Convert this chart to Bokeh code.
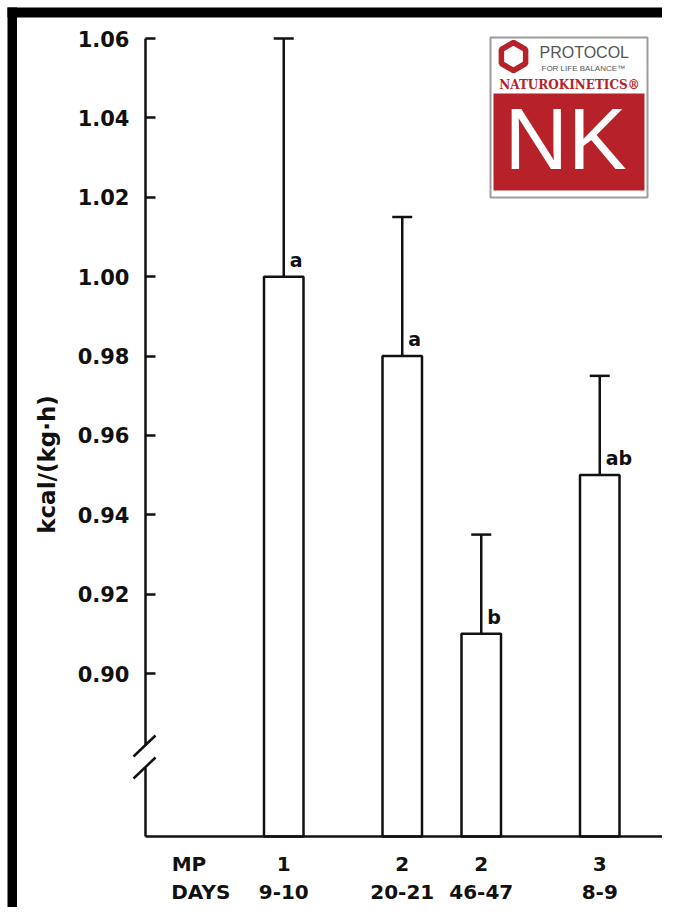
import numpy as np
from bokeh.plotting import figure
from bokeh.models import (Range1d, LinearAxis, FixedTicker, ColumnDataSource,
                          Whisker, TeeHead, Label, NumeralTickFormatter)
from bokeh.core.properties import value
from bokeh.embed import file_html
from bokeh.resources import INLINE

# ---------------- data ----------------
mp_labels = ["1", "2", "2", "3"]
days_labels = ["9-10", "20-21", "46-47", "8-9"]
means = [1.00, 0.98, 0.91, 0.95]
err_up = [0.060, 0.035, 0.025, 0.025]
sig_letters = ["a", "a", "b", "ab"]
y_ticks = [0.90, 0.92, 0.94, 0.96, 0.98, 1.00, 1.02, 1.04, 1.06]
row_titles = ["MP", "DAYS"]
y_title = "kcal/(kg·h)"
logo_top = "PROTOCOL"
logo_sub = "FOR LIFE BALANCE™"
logo_brand = "NATUROKINETICS®"
logo_big = "NK"

# ---------------- layout ----------------
bar_pos = [3.5, 6.5, 8.5, 11.5]
W, H = 662, 907
AX_PX, PX_PER_X = 145.0, 39.5
TOP_PY, TOP_Y, PX_PER_Y = 38.0, 1.06, 3968.75


def px2x(px):
    return (px - AX_PX) / PX_PER_X


def py2y(py):
    return TOP_Y - (py - TOP_PY) / PX_PER_Y


y_base = py2y(836)
INK = "#111111"
RED = "#b7222a"
FONT = "DejaVu Sans"

p = figure(width=W, height=H,
           x_range=Range1d(px2x(0), px2x(W)),
           y_range=Range1d(py2y(H), py2y(0)),
           x_axis_type=None, y_axis_type=None,
           toolbar_location=None, output_backend="svg",
           min_border=0, outline_line_color=None,
           background_fill_color="white", border_fill_color="white")
p.xgrid.visible = False
p.ygrid.visible = False

# outer black frame (left and top)
p.quad(left=px2x(7), right=px2x(16.5), bottom=py2y(940), top=py2y(7),
       fill_color="black", line_color=None)
p.quad(left=px2x(7), right=px2x(700), bottom=py2y(17), top=py2y(7),
       fill_color="black", line_color=None)

# y axis (upper part with ticks)
yax = LinearAxis(fixed_location=0, bounds=(py2y(745), TOP_Y),
                 ticker=FixedTicker(ticks=y_ticks, minor_ticks=[]),
                 formatter=NumeralTickFormatter(format="0.00"),
                 major_tick_in=10, major_tick_out=0,
                 minor_tick_in=0, minor_tick_out=0,
                 axis_line_width=2.5, axis_line_color=INK,
                 major_tick_line_width=2.5, major_tick_line_color=INK,
                 major_label_standoff=16,
                 major_label_text_font=FONT, major_label_text_font_style="bold",
                 major_label_text_font_size="21px", major_label_text_color=INK)
p.add_layout(yax, "left")

# y axis (lower part after break)
yax2 = LinearAxis(fixed_location=0, bounds=(y_base, py2y(767)),
                  ticker=FixedTicker(ticks=[], minor_ticks=[]),
                  major_tick_in=0, major_tick_out=0,
                  minor_tick_in=0, minor_tick_out=0,
                  axis_line_width=2.5, axis_line_color=INK,
                  major_label_text_font_size="0px")
p.add_layout(yax2, "left")

# axis break slashes
p.segment(x0=[px2x(133), px2x(133)], y0=[py2y(756), py2y(778)],
          x1=[px2x(155), px2x(155)], y1=[py2y(735), py2y(757)],
          line_color=INK, line_width=2.5)

# x axis rows
mp_ticks = [1.1] + bar_pos
mp_over = {t: s for t, s in zip(mp_ticks, [row_titles[0]] + mp_labels)}
xax = LinearAxis(fixed_location=y_base, bounds=(0, px2x(672)),
                 ticker=FixedTicker(ticks=mp_ticks, minor_ticks=[]),
                 major_label_overrides=mp_over,
                 major_tick_in=0, major_tick_out=0,
                 minor_tick_in=0, minor_tick_out=0,
                 axis_line_width=2.5, axis_line_color=INK,
                 major_label_standoff=15,
                 major_label_text_font=FONT, major_label_text_font_style="bold",
                 major_label_text_font_size="20px", major_label_text_color=INK)
p.add_layout(xax, "below")

days_ticks = [1.4] + bar_pos
days_over = {t: s for t, s in zip(days_ticks, [row_titles[1]] + days_labels)}
xax2 = LinearAxis(fixed_location=y_base,
                  ticker=FixedTicker(ticks=days_ticks, minor_ticks=[]),
                  major_label_overrides=days_over,
                  major_tick_in=0, major_tick_out=0,
                  minor_tick_in=0, minor_tick_out=0,
                  axis_line_color=None,
                  major_label_standoff=43,
                  major_label_text_font=FONT, major_label_text_font_style="bold",
                  major_label_text_font_size="20px", major_label_text_color=INK)
p.add_layout(xax2, "below")

# bars
src = ColumnDataSource(dict(
    x=bar_pos, top=means,
    upper=[m + e for m, e in zip(means, err_up)],
    lx=[x + 6 / PX_PER_X for x in bar_pos],
    ly=[m + 17 / PX_PER_Y for m in means],
    letter=sig_letters))
p.vbar(x="x", width=1.0, bottom=y_base, top="top", source=src,
       fill_color="white", line_color=INK, line_width=2.5)

# error bars (upper only)
p.add_layout(Whisker(source=src, base="x", lower="top", upper="upper",
                     dimension="height", line_color=INK, line_width=2.5,
                     upper_head=TeeHead(size=20, line_width=2.5, line_color=INK),
                     lower_head=None))

# significance letters
p.text(x="lx", y="ly", text="letter", source=src,
       text_font=value(FONT), text_font_style="bold",
       text_font_size="19px", text_color=INK,
       text_align="left", text_baseline="middle")

# y title
p.add_layout(Label(x=px2x(46), y=py2y(464), text=y_title, angle=np.pi / 2,
                   text_align="center", text_baseline="middle",
                   text_font=FONT, text_font_style="bold",
                   text_font_size="23px", text_color=INK))

# ---------------- logo ----------------
p.quad(left=px2x(490), right=px2x(647), top=py2y(37), bottom=py2y(197),
       fill_color="white", line_color="#9c9c9c", line_width=2)
p.quad(left=px2x(493), right=px2x(644), top=py2y(93), bottom=py2y(190),
       fill_color=RED, line_color=None)
p.scatter(x=[px2x(513)], y=[py2y(56)], marker="hex", size=28, angle=np.pi / 6,
          fill_color="white", line_color=RED, line_width=5.5)
p.text(x=[px2x(539)], y=[py2y(52)], text=[logo_top],
       text_font=value("Liberation Sans"), text_font_size="16px",
       text_color="#555555", text_align="left", text_baseline="middle")
p.text(x=[px2x(541)], y=[py2y(68)], text=[logo_sub],
       text_font=value("Liberation Sans"), text_font_size="8px",
       text_color="#555555", text_align="left", text_baseline="middle")
p.text(x=[px2x(569)], y=[py2y(84)], text=[logo_brand],
       text_font=value("DejaVu Serif"), text_font_style="bold",
       text_font_size="12px",
       text_color=RED, text_align="center", text_baseline="middle")
p.text(x=[px2x(565)], y=[py2y(138)], text=[logo_big],
       text_font=value("Liberation Sans"), text_font_size="88px",
       text_color="white", text_align="center", text_baseline="middle")

open("out.html", "w").write(file_html(p, INLINE))
